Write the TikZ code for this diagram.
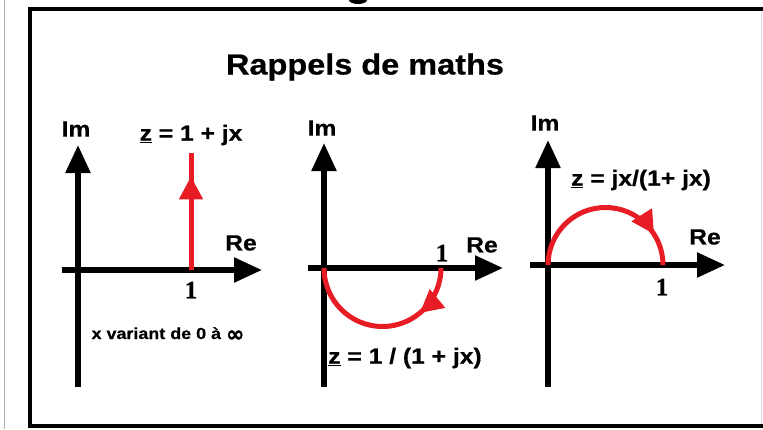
\documentclass[tikz,border=0pt]{standalone}
\usepackage{fontspec}
\setmainfont{Liberation Serif}[BoldFeatures={FakeBold=0.8}]
\setsansfont{Liberation Sans}[FakeStretch=1.12, FakeBold=0.6]
\newfontfamily\symfont{DejaVu Sans Bold}[FakeBold=1.5]
\usetikzlibrary{arrows.meta,decorations.markings}
\definecolor{locusred}{RGB}{232,28,36}
\tikzset{
  axis/.style={line width=5.5pt, -{Triangle[length=28pt,width=24pt]}},
  locus/.style={locusred, line width=5pt},
  mid arrow/.style={postaction={decorate},
    decoration={markings, mark=at position #1 with {\arrow{Triangle[length=23pt,width=23pt]}}}},
  lbl/.style={inner sep=0pt, font=\sffamily\bfseries\fontsize{22}{24}\selectfont},
  num/.style={inner sep=0pt, font=\rmfamily\bfseries\fontsize{25}{26}\selectfont},
  note/.style={inner sep=0pt, font=\sffamily\bfseries\fontsize{16}{20}\selectfont},
  title/.style={inner sep=0pt, font=\sffamily\bfseries\fontsize{29}{34}\selectfont}
}
\newcommand\infsign{\raisebox{-2.5pt}{\symfont\fontsize{22}{20}\selectfont ∞}}

\begin{document}
\begin{tikzpicture}[x=1pt, y=-1pt, line cap=butt, line join=miter]
  \useasboundingbox (0,0) rectangle (763,429);

  % Frame (cut off at the right and at the top)
  \draw[gray!60, line width=1pt] (4,0) -- (4,429);
  \draw[gray!25, line width=1pt] (761,12) -- (761,429);
  \draw[line width=4.5pt] (30,9) rectangle (775,426);
  \fill (358,0) ellipse [x radius=9, y radius=4];

  \node[title] (title) at (365,67) {Rappels de maths};

  % Panel 1: z = 1 + jx
  \coordinate (W1) at (62,270);
  \coordinate (E1) at (262,270);
  \coordinate (S1) at (78,387);
  \coordinate (N1) at (78,145);
  \coordinate (U1) at (191,270);
  \coordinate (T1) at (191,153);
  \draw[axis] (W1) -- (E1);
  \draw[axis] (S1) -- (N1);
  \draw[locus, mid arrow=0.8] (U1) -- (T1);
  \node[lbl] (im1) at (76,129) {Im};
  \node[lbl] (re1) at (241,243) {Re};
  \node[num] (one1) at (191,290) {1};
  \node[lbl] (z1) at (191,135) {\underline{z} = 1 + jx};
  \node[note, anchor=base] (range) at (168,339) {x variant de 0 à \infsign};

  % Panel 2: z = 1/(1 + jx)
  \coordinate (W2) at (308,268);
  \coordinate (E2) at (503,268);
  \coordinate (S2) at (324,387);
  \coordinate (N2) at (324,143);
  \coordinate (U2) at (441,268);
  \draw[axis] (W2) -- (E2);
  \draw[axis] (S2) -- (N2);
  \draw[locus, mid arrow=0.28] (U2) arc[start angle=0, end angle=180, radius=58.5];
  \node[lbl] (im2) at (322,128) {Im};
  \node[lbl] (re2) at (482,245) {Re};
  \node[num] (one2) at (442,253) {1};
  \node[lbl] (z2) at (405,358) {\underline{z} = 1 / (1 + jx)};

  % Panel 3: z = jx/(1 + jx)
  \coordinate (W3) at (530,265);
  \coordinate (E3) at (725,265);
  \coordinate (S3) at (548,387);
  \coordinate (N3) at (548,140);
  \coordinate (O3) at (548,265);
  \draw[axis] (W3) -- (E3);
  \draw[axis] (S3) -- (N3);
  \draw[locus, mid arrow=0.82] (O3) arc[start angle=180, end angle=360, radius=57.5];
  \node[lbl] (im3) at (545,123) {Im};
  \node[lbl] (re3) at (705,237) {Re};
  \node[num] (one3) at (662,287) {1};
  \node[lbl] (z3) at (641,180) {\underline{z} = jx/(1+ jx)};
\end{tikzpicture}
\end{document}
